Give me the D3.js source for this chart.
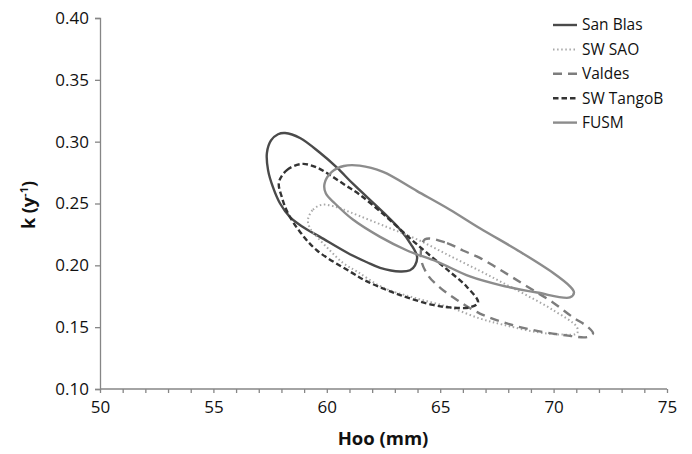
<!DOCTYPE html>
<html><head><meta charset="utf-8">
<script src="https://cdn.jsdelivr.net/npm/d3@7"></script>
<style>
body{margin:0;background:#fff}
svg text{font-family:"Open Sans","Liberation Sans",sans-serif;fill:#111}
</style>
</head><body>
<svg id="chart" width="692" height="454"></svg>
<script>
// ---- data (Hoo in mm, k in 1/y) ----
const seriesNames = ["San Blas", "SW SAO", "Valdes", "SW TangoB", "FUSM"];
const xTickValues = [50, 55, 60, 65, 70, 75];
const yTickValues = [0.10, 0.15, 0.20, 0.25, 0.30, 0.35, 0.40];

const sanBlas = [
  [57.36,0.291],[57.54,0.301],[57.85,0.306],[58.16,0.307],[58.82,0.303],[59.70,0.291],
  [60.45,0.279],[61.15,0.266],[62.48,0.243],[63.23,0.229],[63.71,0.217],[63.98,0.207],
  [63.89,0.200],[63.67,0.196],[63.23,0.195],[62.35,0.198],[61.77,0.2025],[61.02,0.209],
  [59.70,0.223],[58.95,0.231],[58.38,0.239],[57.94,0.250],[57.63,0.263],[57.41,0.277]
];
const swSao = [
  [59.17,0.237],[59.39,0.245],[59.79,0.249],[60.45,0.247],[61.02,0.243],[62.65,0.231],
  [63.98,0.221],[65.43,0.2076],[66.75,0.1955],[67.77,0.1858],[68.83,0.1756],[69.97,0.1639],
  [71.03,0.150],[71.03,0.145],[70.41,0.144],[69.27,0.146],[67.77,0.152],[66.75,0.157],
  [65.43,0.166],[63.89,0.1736],[62.48,0.182],[61.33,0.195],[60.71,0.202],[60.14,0.212],
  [59.57,0.223],[59.26,0.230]
];
const valdes = [
  [64.33,0.221],[65.30,0.218],[66.00,0.212],[66.75,0.206],[67.50,0.198],[68.21,0.190],
  [69.09,0.180],[69.97,0.170],[70.85,0.158],[71.52,0.150],[71.74,0.145],[71.47,0.142],
  [70.72,0.143],[69.27,0.147],[67.94,0.153],[66.75,0.161],[65.74,0.172],[64.99,0.182],
  [64.46,0.192],[64.15,0.206]
];
const swTangoB = [
  [57.89,0.267],[58.24,0.277],[58.91,0.282],[59.57,0.279],[60.14,0.273],[60.80,0.265],
  [61.46,0.257],[62.48,0.2416],[63.67,0.2218],[64.68,0.206],[65.43,0.1947],[66.18,0.1825],
  [66.67,0.170],[66.31,0.166],[65.43,0.166],[64.68,0.168],[63.23,0.176],[61.77,0.187],
  [61.02,0.195],[59.57,0.212],[58.82,0.227],[58.29,0.242],[58.02,0.255]
];
const fusm = [
  [59.90,0.266],[60.22,0.2755],[60.75,0.2803],[61.45,0.2806],[62.48,0.2755],[63.98,0.260],
  [65.43,0.245],[66.75,0.230],[68.52,0.211],[69.97,0.194],[70.72,0.183],[70.90,0.178],
  [70.72,0.174],[69.27,0.178],[67.64,0.184],[66.31,0.191],[64.86,0.203],[63.54,0.212],
  [62.35,0.223],[61.15,0.237],[60.36,0.250],[59.96,0.258]
];
const seriesData = [sanBlas, swSao, valdes, swTangoB, fusm];

// ---- styles ----
const styles = [
  {stroke:"#4a4a4a", width:2.4, dash:null},
  {stroke:"#a8a8a8", width:2.0, dash:"1.5,2.6"},
  {stroke:"#7d7d7d", width:2.4, dash:"9,6"},
  {stroke:"#333333", width:2.4, dash:"5.5,3"},
  {stroke:"#8c8c8c", width:2.4, dash:null}
];

const svg = d3.select("#chart");
const x = d3.scaleLinear().domain([50, 75]).range([100, 667]);
const y = d3.scaleLinear().domain([0.10, 0.40]).range([389, 18]);

// axes
const axisColor = "#868686";
const gy = svg.append("g").attr("transform", "translate(100,0)")
  .call(d3.axisLeft(y).tickValues(yTickValues).tickFormat(d3.format(".2f")).tickSize(5).tickPadding(6));
const gx = svg.append("g").attr("transform", "translate(0,389)")
  .call(d3.axisBottom(x).tickValues(d3.range(50, 76, 1))
    .tickFormat(d => xTickValues.includes(d) ? d : "").tickSize(4).tickPadding(8));
[gx, gy].forEach(g => {
  g.select(".domain").attr("stroke", axisColor).attr("stroke-width", 1.3);
  g.selectAll(".tick line").attr("stroke", axisColor).attr("stroke-width", 1.3);
  g.selectAll(".tick text").attr("font-size", 17).attr("fill", "#111")
    .attr("font-family", "'Open Sans', sans-serif");
});
gx.select(".domain").attr("d", "M100,0H667");

// axis titles
svg.append("text").attr("x", 383).attr("y", 445).attr("text-anchor", "middle")
  .attr("font-size", 18.5).attr("font-weight", "bold").text("Hoo (mm)");
const yt = svg.append("text").attr("transform", "translate(35,205) rotate(-90)")
  .attr("text-anchor", "middle").attr("font-size", 18).attr("font-weight", "bold");
yt.append("tspan").text("k (y");
yt.append("tspan").attr("font-size", 11).attr("dy", -7).text("-1");
yt.append("tspan").attr("dy", 7).text(")");

// ellipses
const line = d3.line().x(d => x(d[0])).y(d => y(d[1])).curve(d3.curveCatmullRomClosed.alpha(0.5));
seriesData.forEach((pts, i) => {
  svg.append("path").attr("d", line(pts)).attr("fill", "none")
    .attr("stroke", styles[i].stroke).attr("stroke-width", styles[i].width)
    .attr("stroke-dasharray", styles[i].dash);
});

// legend
const lg = svg.append("g").attr("transform", "translate(553,25)");
seriesNames.forEach((name, i) => {
  const row = lg.append("g").attr("transform", `translate(0,${i * 24.4})`);
  row.append("line").attr("x1", 0).attr("x2", 24).attr("y1", 0).attr("y2", 0)
    .attr("stroke", styles[i].stroke).attr("stroke-width", styles[i].width)
    .attr("stroke-dasharray", styles[i].dash);
  row.append("text").attr("x", 29).attr("y", 0).attr("dy", "0.35em")
    .attr("font-size", 15.5).text(name);
});
</script>
</body></html>
